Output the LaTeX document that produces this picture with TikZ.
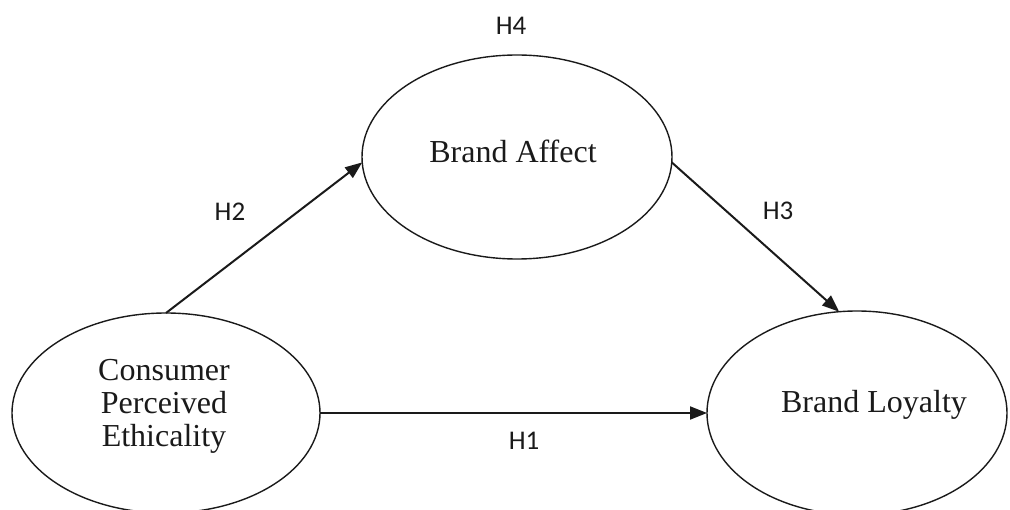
\documentclass[tikz,border=0pt]{standalone}
\usepackage{fontspec}
\setmainfont{Liberation Serif}
\newfontfamily\hfont{Carlito}
\usetikzlibrary{arrows.meta,shapes.geometric}
\definecolor{ink}{HTML}{1A1A1A}
\tikzset{
  construct/.style={ellipse,draw=ink,line width=1.4pt,inner sep=0pt,outer sep=0pt},
  ctext/.style={font=\fontsize{32}{33}\selectfont,text=ink,inner sep=0pt,align=center},
  hlabel/.style={font=\hfont\fontsize{27}{30}\selectfont,text=ink,inner sep=0pt},
  arr/.style={draw=ink,line width=2pt,-{Triangle[length=17pt,width=13pt]}}
}
\begin{document}
\begin{tikzpicture}[x=1pt,y=-1pt]
\useasboundingbox (0,0) rectangle (1010,510);
\node[construct,minimum width=308pt,minimum height=200pt] (CPE) at (166,413) {};
\node[construct,minimum width=310pt,minimum height=204pt] (BA) at (517,157) {};
\node[construct,minimum width=300pt,minimum height=204pt] (BL) at (857,413) {};
\node[ctext] (CPEt) at (164,406) {Consumer\\Perceived\\Ethicality};
\node[ctext,anchor=base] (BAt) at (513,163) {Brand Affect};
\node[ctext,anchor=base] (BLt) at (874,413) {Brand Loyalty};
\draw[arr] (CPE.north) -- (BA.182);
\draw[arr] (BA.-2) -- (BL.100.5);
\draw[arr] (CPE.east) -- (BL.west);
\node[hlabel] (H4) at (511,26) {H4};
\node[hlabel] (H2) at (230,212) {H2};
\node[hlabel] (H3) at (778,211) {H3};
\node[hlabel] (H1) at (524,441) {H1};
\end{tikzpicture}
\end{document}
